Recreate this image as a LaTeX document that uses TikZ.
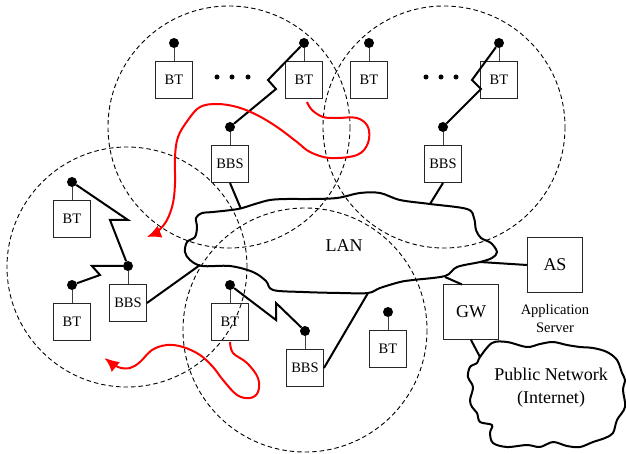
\documentclass[tikz,border=0pt]{standalone}
\usepackage{fontspec}
\setmainfont{Liberation Serif}
\usetikzlibrary{arrows.meta}
\begin{document}
\begin{tikzpicture}[x=1pt,y=-1pt,
  cell/.style={draw=black,line width=0.9pt,dash pattern=on 4.5pt off 3pt},
  term/.style={draw=black!85,line width=0.9pt,minimum size=37pt,inner sep=0pt,
               font=\fontsize{14.5}{16}\selectfont},
  srv/.style={draw=black!85,line width=0.9pt,minimum size=55pt,inner sep=0pt,
              font=\fontsize{18}{20}\selectfont},
  ant/.style={circle,fill=black,inner sep=0pt,minimum size=10pt},
  stem/.style={draw=black!75,line width=0.9pt},
  edot/.style={circle,fill=black,inner sep=0pt,minimum size=5pt},
  link/.style={draw=black,line width=2pt,line join=miter},
  net/.style={draw=black,line width=2pt,line join=round},
  move/.style={draw=red,line width=2pt,-{Latex[length=14pt,width=13pt]}}]
\useasboundingbox (0,0) rectangle (626,454);

% radio cells
\draw[cell] (229,127) circle (121);
\draw[cell] (444,127) circle (121);
\draw[cell] (127,267) circle (120);
\draw[cell] (305,330) circle (122);

% terminals and base stations
\node[term] (bt1) at (174,80) {BT};
\node[term] (bt2) at (304,80) {BT};
\node[term] (bt3) at (369,80) {BT};
\node[term] (bt4) at (499,80) {BT};
\node[term] (bbs1) at (230,164) {BBS};
\node[term] (bbs2) at (443,164) {BBS};
\node[term] (bt5) at (72,219) {BT};
\node[term] (bt6) at (72,322) {BT};
\node[term] (bbs3) at (128,303) {BBS};
\node[term] (bt7) at (230,322) {BT};
\node[term] (bbs4) at (305,368) {BBS};
\node[term] (bt8) at (388,349) {BT};

% antennas above each unit
\foreach \b in {bt1,bt2,bt3,bt4,bbs1,bbs2,bt5,bt6,bbs3,bt7,bbs4,bt8}{
  \node[ant] (a\b) at ([yshift=37pt]\b.center) {};
  \draw[stem] (a\b) -- (\b.north);
}

% ellipses between terminals
\foreach \x [count=\i] in {217,232,248,426,441,456}
  \node[edot] (e\i) at (\x,77) {};

% LAN cloud
\draw[net] plot[smooth cycle,tension=0.55] coordinates {
  (202,213) (213,212) (238,209) (255,204) (270,200) (287,199) (310,199)
  (337,198) (360,193) (380,193) (400,200) (430,204) (467,209) (474,218)
  (476,230) (481,238) (491,243) (497,252) (492,258) (480,262) (457,267)
  (445,276) (413,280) (400,282) (380,288) (368,293) (340,293) (303,292)
  (273,290) (266,281) (253,272) (230,266) (202,266) (190,260) (185,252)
  (187,242) (195,237) (197,227) (196,218)};
\node[font=\fontsize{18}{20}\selectfont] (lan) at (344,246) {LAN};

% attachment points on the LAN
\coordinate (l1) at (241,209);
\coordinate (l2) at (430,204);
\coordinate (l3) at (200,265);
\coordinate (l4) at (368,293);
\coordinate (l5) at (480,262);
\coordinate (l6) at (445,277);

% radio links
\coordinate (z1) at (268,80);  \coordinate (z2) at (276,89);
\draw[link] (abt2) -- (z1) -- (z2) -- (abbs1);
\coordinate (z3) at (472,80);  \coordinate (z4) at (481,89);
\draw[link] (abt4) -- (z3) -- (z4) -- (abbs2);
\coordinate (z5) at (128,220); \coordinate (z6) at (110,220);
\draw[link] (abt5) -- (z5) -- (z6) -- (abbs3);
\coordinate (z7) at (100,275); \coordinate (z8) at (92,266);
\draw[link] (abt6) -- (z7) -- (z8) -- (abbs3);
\coordinate (z9) at (276,320); \coordinate (z10) at (276,303);
\draw[link] (abt7) -- (z9) -- (z10) -- (abbs4);

% wired links
\draw[link] (bbs1.south) -- (l1);
\draw[link] (bbs2.south) -- (l2);
\draw[link] (bbs3.east) -- (l3);
\draw[link] (bbs4.east) -- (l4);

% servers
\node[srv] (as) at (555,265) {AS};
\node[srv] (gw) at (471,312) {GW};
\node[align=center,font=\fontsize{14.5}{18}\selectfont] (asl) at (555,319) {Application\\Server};
\coordinate (gwtop) at (462,284.5);
\draw[link] (l5) -- (as.west);
\draw[link] (l6) -- (gwtop);

% public network cloud
\draw[net] plot[smooth cycle,tension=0.55] coordinates {
  (480,357) (492,343) (507,342) (527,347) (540,344) (553,342) (567,345)
  (580,347) (593,348) (607,352) (617,360) (622,373) (625,380) (623,390)
  (625,407) (617,420) (613,433) (605,438) (593,442) (580,447) (567,446)
  (553,442) (540,447) (527,445) (507,447) (493,443) (490,433) (492,425)
  (480,422) (477,413) (472,407) (470,400) (473,387) (468,377) (470,367)
  (477,363)};
\node[align=center,font=\fontsize{18}{23}\selectfont] (pub) at (551,388) {Public Network\\(Internet)};
\coordinate (pn) at (480,357);
\draw[link] (gw.south) -- (pn);

% terminal movement
\draw[move] plot[smooth,tension=0.6] coordinates {
  (307,102) (312,110) (323,117) (337,118) (357,118) (368,127) (368,143)
  (357,155) (330,158) (310,152) (297,142) (277,127) (257,115) (237,107)
  (217,104) (200,107) (188,120) (178,137) (175,157) (175,183) (173,203)
  (167,220) (158,231) (147,237)};
\draw[move] plot[smooth,tension=0.6] coordinates {
  (230,342) (233,353) (247,363) (258,378) (258,392) (250,398) (237,395)
  (223,380) (213,367) (200,355) (183,347) (167,345) (152,350) (140,362)
  (130,368) (118,367) (105,358)};
\end{tikzpicture}
\end{document}
